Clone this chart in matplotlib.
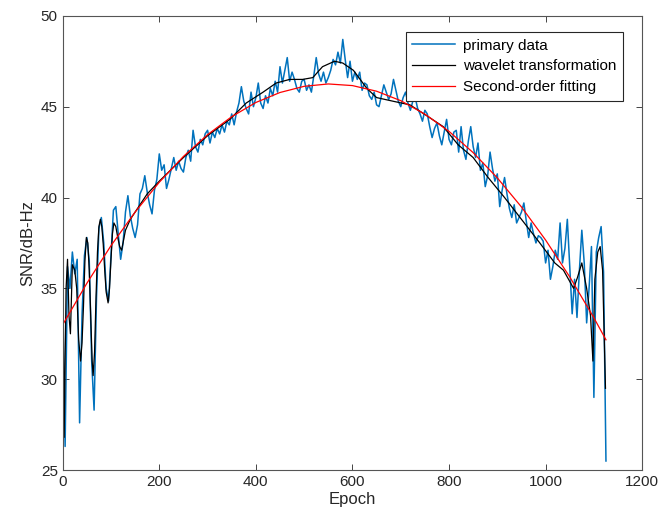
import numpy as np
import matplotlib
matplotlib.use("Agg")
import matplotlib.pyplot as plt

plt.rcParams['font.family'] = ['Liberation Sans', 'DejaVu Sans']

# primary data, one value every 5 epochs
raw_epoch = np.arange(0, 1130, 5)
raw_snr = [
    34.0, 26.3, 36.2, 35.0, 37.0, 35.8, 36.6, 27.6, 33.5, 36.8,
    37.8, 36.5, 31.0, 28.3, 34.5, 38.3, 38.9, 37.5, 35.0, 34.3,
    36.8, 39.3, 39.5, 38.0, 36.6, 37.5, 39.2, 40.1, 39.0, 38.3,
    37.8, 38.5, 40.2, 40.5, 41.2, 40.3, 39.6, 39.1, 40.4, 41.0,
    42.4, 41.5, 41.8, 40.5, 41.0, 41.6, 42.2, 41.5, 42.0, 41.6,
    41.4, 42.2, 42.6, 42.0, 43.7, 42.8, 42.5, 43.2, 42.9, 43.5,
    43.7, 43.0, 43.6, 43.3, 43.8, 43.5, 44.0, 43.6, 44.2, 44.0,
    44.6, 44.0, 44.7, 45.2, 46.1, 45.3, 44.9, 44.6, 45.8, 45.0,
    45.5, 46.3, 45.2, 44.9, 45.6, 45.2, 46.0, 45.6, 46.4, 45.8,
    47.2, 46.3, 47.0, 47.7, 46.4, 46.9, 46.5, 46.0, 45.8, 46.4,
    46.5, 45.9, 46.2, 45.8, 46.7, 47.7, 46.8, 46.4, 46.9, 46.3,
    46.6, 47.0, 47.6, 47.3, 48.0, 47.4, 48.7, 47.6, 46.6, 47.5,
    46.4, 46.9, 46.5, 46.9, 45.9, 46.3, 46.2, 45.6, 45.4, 45.8,
    45.1, 45.0, 45.6, 46.2, 45.8, 45.4, 45.7, 46.5, 45.9, 45.3,
    45.0, 45.5, 45.8, 45.2, 44.8, 45.3, 45.5, 44.9, 44.6, 44.2,
    44.8, 44.6, 43.9, 43.3, 43.8, 44.1, 43.4, 42.9, 43.6, 44.3,
    43.2, 42.9, 43.6, 43.7, 42.5, 43.9, 42.6, 42.1, 43.1, 43.9,
    42.8, 42.2, 43.0, 41.5, 41.9, 40.6, 41.2, 42.5, 41.6, 40.9,
    41.3, 39.5, 40.4, 41.1, 40.2, 39.4, 38.9, 39.6, 38.6, 38.9,
    39.2, 39.7, 38.7, 37.8, 38.6, 38.0, 37.5, 37.9, 37.8, 37.6,
    36.4, 37.1, 35.5, 36.2, 37.1, 36.6, 38.6, 36.4, 37.2, 38.8,
    36.2, 33.6, 35.5, 33.4, 36.0, 38.2, 36.4, 33.1, 35.0, 37.3,
    29.0, 37.0, 37.8, 38.4, 35.9, 25.5,
]

# wavelet-denoised curve
wav_epoch = [0, 3, 7, 10, 13, 16, 20, 25, 29, 33, 37, 40, 43, 46, 49, 52,
             55, 58, 61, 63, 66, 69, 72, 75, 78, 81, 84, 87, 90, 94, 97,
             100, 103, 106, 110, 114, 118, 122, 130, 140, 150, 175, 200,
             250, 300, 346, 380, 415, 442, 470, 497, 518, 538, 563, 580,
             602, 630, 650, 684, 719, 754, 788, 819, 850, 881, 915, 950,
             988, 1019, 1037, 1058, 1066, 1075, 1085, 1093, 1098, 1102,
             1108, 1113, 1118, 1124]
wav_snr = [39.4, 26.8, 35.0, 36.6, 33.5, 32.5, 36.3, 36.0, 35.0, 32.2,
           31.0, 32.0, 34.0, 36.5, 37.8, 37.5, 36.0, 33.5, 31.0, 30.2,
           31.5, 34.5, 37.0, 38.4, 38.8, 38.4, 37.4, 36.0, 34.8, 34.2,
           35.0, 36.6, 38.0, 38.6, 38.4, 37.8, 37.3, 37.1, 38.2, 38.8,
           39.2, 40.2, 40.9, 42.2, 43.4, 44.3, 45.2, 45.8, 46.3, 46.5,
           46.5, 46.6, 47.2, 47.5, 47.4, 47.0, 46.0, 45.5, 45.3, 45.1,
           44.5, 43.9, 42.9, 42.2, 41.1, 40.0, 38.8, 37.5, 36.4, 36.0,
           35.0, 35.6, 36.4, 35.0, 33.5, 31.0, 35.5, 37.0, 37.3, 36.0,
           29.5]

# second-order fit
fit_epoch = [0, 50, 100, 150, 200, 250, 300, 350, 400, 450, 500, 550, 600,
             650, 700, 750, 800, 850, 900, 950, 1000, 1050, 1100, 1125]
fit_snr = [33.00, 35.28, 37.35, 39.20, 40.84, 42.26, 43.46, 44.45, 45.23,
           45.78, 46.12, 46.25, 46.16, 45.85, 45.33, 44.59, 43.64, 42.47,
           41.08, 39.48, 37.66, 35.63, 33.38, 32.17]

fig = plt.figure(figsize=(6.6, 5.27), dpi=100)
ax = fig.add_axes([0.095, 0.108, 0.878, 0.862])

ax.plot(raw_epoch, raw_snr, color='#0072BD', lw=1.1, label='primary data')
ax.plot(wav_epoch, wav_snr, color='black', lw=0.9, label='wavelet transformation')
ax.plot(fit_epoch, fit_snr, color='red', lw=0.9, label='Second-order fitting')

ax.set_xlim(0, 1200)
ax.set_ylim(25, 50)
ax.set_xticks(range(0, 1201, 200))
ax.set_yticks(range(25, 51, 5))
ax.set_xlabel('Epoch', fontsize=12, color='#262626', labelpad=2)
ax.set_ylabel('SNR/dB-Hz', fontsize=12, color='#262626', labelpad=4)
ax.tick_params(direction='in', top=True, right=True, labelsize=11,
               colors='#262626', length=4, width=0.6)
for s in ax.spines.values():
    s.set_color('#555555')
    s.set_linewidth(0.8)

leg = ax.legend(loc='upper right', bbox_to_anchor=(0.967, 0.965),
                borderaxespad=0, fontsize=11, fancybox=False,
                framealpha=1, edgecolor='#262626', handlelength=2.8,
                labelspacing=0.45, borderpad=0.45, handletextpad=0.5)
leg.get_frame().set_linewidth(0.8)

plt.savefig('out.png', dpi=100)
